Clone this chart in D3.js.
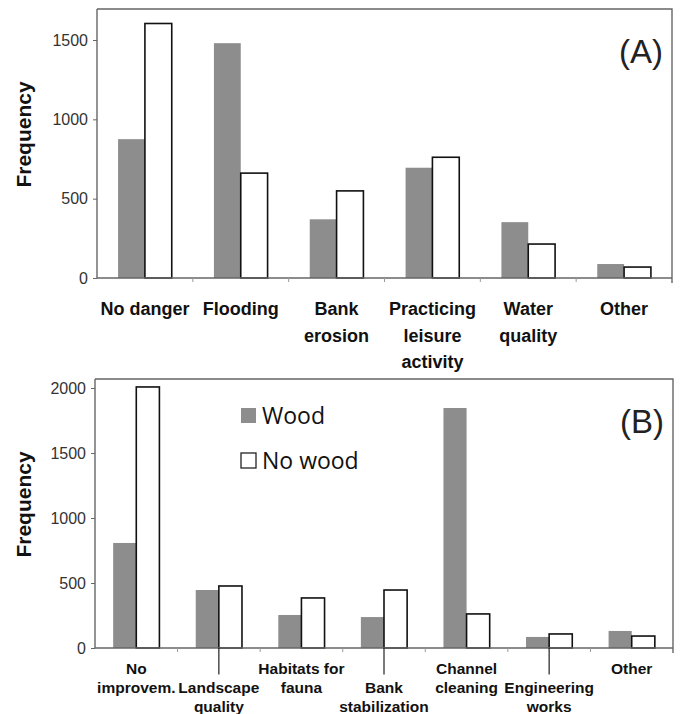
<!DOCTYPE html>
<html><head><meta charset="utf-8">
<script src="https://cdn.jsdelivr.net/npm/d3@7"></script>
<style>
body{margin:0;background:#fff;}
svg{display:block;}
</style></head>
<body>
<svg id="c" width="681" height="714"></svg>
<script>
const series = ["Wood", "No wood"];
const categoriesA = ["No danger", "Flooding", "Bank erosion", "Practicing leisure activity", "Water quality", "Other"];
const labelsA = [["No danger"], ["Flooding"], ["Bank", "erosion"], ["Practicing", "leisure", "activity"], ["Water", "quality"], ["Other"]];
const woodA = [875, 1480, 370, 695, 352, 88];
const noWoodA = [1604, 661, 549, 761, 214, 69];
const ticksA = [0, 500, 1000, 1500];

const categoriesB = ["No improvem.", "Landscape quality", "Habitats for fauna", "Bank stabilization", "Channel cleaning", "Engineering works", "Other"];
const labelsB = [["No", "improvem."], ["Landscape", "quality"], ["Habitats for", "fauna"], ["Bank", "stabilization"], ["Channel", "cleaning"], ["Engineering", "works"], ["Other"]];
const woodB = [808, 446, 254, 238, 1846, 85, 131];
const noWoodB = [2008, 477, 385, 446, 262, 108, 92];
const ticksB = [0, 500, 1000, 1500, 2000];

const svg = d3.select("#c");
const GRAY = "#8d8d8d";
const FONT = "Liberation Sans, Arial, sans-serif";

function panel(opts) {
  const {cats, labels, wood, noWood, ticks, x0, x1, yBase, yTopTick, topTickVal, frameTop, tag, tagY, labelFs, lineGap, firstBase, dropped, dropGap} = opts;
  const g = svg.append("g");
  const x = d3.scaleBand().domain(cats).range([x0, x1]).padding(0);
  const xs = d3.scaleBand().domain(series).range([x.bandwidth() * 0.22, x.bandwidth() * 0.78]).padding(0);
  const y = d3.scaleLinear().domain([0, topTickVal]).range([yBase, yTopTick]);

  g.append("path")
    .attr("d", `M${x0},${frameTop}H${x1}V${yBase + 5}`)
    .attr("fill", "none").attr("stroke", "#666").attr("stroke-width", 1.4);

  const data = cats.map((c, i) => ({c, vals: [{s: "Wood", v: wood[i]}, {s: "No wood", v: noWood[i]}]}));
  const grp = g.selectAll("g.grp").data(data).join("g")
    .attr("transform", d => `translate(${x(d.c)},0)`);
  grp.selectAll("rect").data(d => d.vals).join("rect")
    .attr("x", d => xs(d.s))
    .attr("width", xs.bandwidth())
    .attr("y", d => y(d.v))
    .attr("height", d => yBase - y(d.v))
    .attr("fill", d => d.s === "Wood" ? GRAY : "#fff")
    .attr("stroke", d => d.s === "Wood" ? "none" : "#111")
    .attr("stroke-width", 1.6);

  const ya = d3.axisLeft(y).tickValues(ticks).tickSize(4).tickPadding(5).tickFormat(d3.format("d"));
  const yg = g.append("g").attr("transform", `translate(${x0},0)`).call(ya);
  yg.select(".domain").attr("d", `M0,${frameTop}V${yBase}`).attr("stroke", "#666").attr("stroke-width", 1.4);
  yg.selectAll(".tick line").attr("stroke", "#666");
  yg.selectAll(".tick text").attr("font-family", FONT)
    .attr("font-size", 16).attr("fill", "#333");

  const xa = d3.axisBottom(x).tickSize(0).tickFormat("");
  const xg = g.append("g").attr("transform", `translate(0,${yBase})`).call(xa);
  xg.select(".domain").attr("d", `M${x0},0H${x1}`).attr("stroke", "#666").attr("stroke-width", 1.4);
  xg.selectAll(".tick").remove();
  g.selectAll("line.bt").data(cats.slice(1)).join("line")
    .attr("x1", d => x(d)).attr("x2", d => x(d))
    .attr("y1", yBase).attr("y2", yBase + 4)
    .attr("stroke", "#999").attr("stroke-width", 1);

  cats.forEach((c, i) => {
    const cx = x(c) + x.bandwidth() / 2;
    const drop = dropped.has(c) ? dropGap : 0;
    const t = g.append("text")
      .attr("text-anchor", "middle")
      .attr("font-family", FONT)
      .attr("font-weight", "bold").attr("font-size", labelFs).attr("fill", "#111");
    labels[i].forEach((ln, k) => {
      t.append("tspan").attr("x", cx).attr("y", firstBase + drop + k * lineGap).text(ln);
    });
    if (drop) {
      const lx = x(c) + xs("No wood");
      g.append("line").attr("x1", lx).attr("x2", lx)
        .attr("y1", yBase).attr("y2", firstBase + drop - labelFs - 3)
        .attr("stroke", "#222").attr("stroke-width", 1.2);
    }
  });

  g.append("text")
    .attr("transform", `translate(31,${(frameTop + yBase) / 2 - 9}) rotate(-90)`)
    .attr("text-anchor", "middle")
    .attr("font-family", FONT)
    .attr("font-weight", "bold").attr("font-size", 21).attr("fill", "#111")
    .text("Frequency");

  g.append("text").attr("x", x1 - 9).attr("y", tagY).attr("text-anchor", "end")
    .attr("font-family", FONT).attr("font-size", 33).attr("fill", "#222")
    .text(tag);
  return {x, xs, y, g};
}

panel({cats: categoriesA, labels: labelsA, wood: woodA, noWood: noWoodA, ticks: ticksA,
  x0: 97, x1: 672, yBase: 278, yTopTick: 40, topTickVal: 1500, frameTop: 9, tag: "(A)", tagY: 63,
  labelFs: 18, lineGap: 26.5, firstBase: 315, dropped: new Set(), dropGap: 0});

panel({cats: categoriesB, labels: labelsB, wood: woodB, noWood: noWoodB, ticks: ticksB,
  x0: 95, x1: 673, yBase: 648, yTopTick: 388, topTickVal: 2000, frameTop: 379, tag: "(B)", tagY: 433,
  labelFs: 15.5, lineGap: 18.5, firstBase: 674, dropped: new Set(["Landscape quality", "Bank stabilization", "Engineering works"]), dropGap: 19});

const lg = svg.append("g").attr("font-family", "Open Sans, Liberation Sans, sans-serif").attr("font-size", 23).attr("fill", "#111");
series.forEach((s, i) => {
  const yy = 408 + i * 45;
  lg.append("rect").attr("x", 241).attr("y", yy).attr("width", 15).attr("height", 15)
    .attr("fill", s === "Wood" ? GRAY : "#fff").attr("stroke", s === "Wood" ? "none" : "#222").attr("stroke-width", 1.3);
  lg.append("text").attr("x", 262).attr("y", yy + 16).text(s);
});
</script>
</body></html>
